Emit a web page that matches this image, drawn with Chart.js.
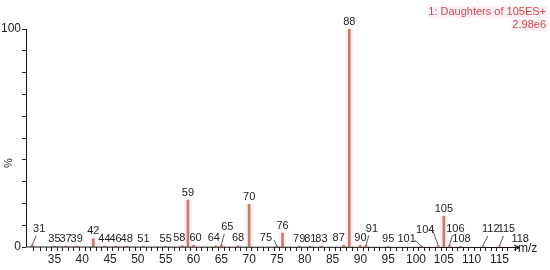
<!DOCTYPE html>
<html>
<head>
<meta charset="utf-8">
<script src="https://cdn.jsdelivr.net/npm/chart.js@4.4.0/dist/chart.umd.min.js"></script>
<style>
	html, body { margin: 0; padding: 0; background: #fff; }
	#wrap { width: 550px; height: 270px; }
</style>
</head>
<body>
<div id="wrap"><canvas id="myChart" width="550" height="270"></canvas></div>
<script>
// peaks (m/z, relative intensity %)
const mzValues = [31, 35, 37, 39, 42, 44, 46, 48, 51, 55, 58, 59, 60, 64, 65, 68, 70, 75, 76, 79, 81, 83, 87, 88, 90, 91, 95, 101, 104, 105, 106, 108, 112, 115, 118];
const intensities = [1.0, 0.4, 0.4, 0.4, 3.8, 0.4, 0.4, 0.3, 0.4, 0.4, 0.6, 21.5, 0.8, 0.5, 1.0, 0.6, 19.6, 0.5, 6.4, 0.4, 0.4, 0.4, 0.8, 100, 0.8, 0.8, 0.4, 0.4, 0.6, 14.2, 0.7, 0.4, 0.5, 0.5, 0.3];
const xTickLabels = [35, 40, 45, 50, 55, 60, 65, 70, 75, 80, 85, 90, 95, 100, 105, 110, 115];
const titleLines = ['1: Daughters of 105ES+', '2.98e6'];

// label nudges in pixels for peaks whose labels sit beside the line
const labelShift = {
	31: [7, -8], 58: [-3, 0], 60: [2, 0], 64: [-2, 0], 65: [6, -10], 75: [-11, 0],
	87: [-5, 0], 91: [6, -9], 101: [-15, 0], 104: [-13, -8], 106: [6, -9],
	108: [1, 0], 112: [8, -9], 115: [7, -9], 118: [4, 0]
};

const ctx = document.getElementById('myChart');
const points = mzValues.map((mz, i) => ({x: mz, y: intensities[i]}));

const peakLabels = {
	id: 'peakLabels',
	afterDatasetsDraw(chart) {
		const c = chart.ctx;
		const xs = chart.scales.x;
		const ys = chart.scales.y;
		c.save();
		c.font = '11px "Liberation Sans", Arial, sans-serif';
		c.fillStyle = '#222';
		c.strokeStyle = '#333';
		c.lineWidth = 0.8;
		c.textAlign = 'center';
		c.textBaseline = 'bottom';
		mzValues.forEach((mz, i) => {
			const px = xs.getPixelForValue(mz);
			const py = ys.getPixelForValue(intensities[i]);
			const shift = labelShift[mz] || [0, 0];
			const tx = px + shift[0];
			const ty = py - 2 + shift[1];
			c.fillText(String(mz), tx, ty);
			if (shift[1] !== 0 || Math.abs(shift[0]) > 8) {
				c.beginPath();
				if (shift[0] > 0) {
					c.moveTo(px, py);
					c.lineTo(tx - 3, ty + 1);
				} else {
					c.moveTo(tx + 8, ty - 4);
					c.lineTo(px, py);
				}
				c.stroke();
			}
		});

		// axes lines with arrow at the end of m/z axis
		const left = chart.chartArea.left;
		const bottom = chart.chartArea.bottom;
		c.strokeStyle = '#111';
		c.lineWidth = 1;
		c.beginPath();
		c.moveTo(left + 0.5, ys.getPixelForValue(100));
		c.lineTo(left + 0.5, bottom);
		c.lineTo(chart.chartArea.right - 4, bottom + 0.5);
		c.stroke();
		const ax = chart.chartArea.right - 4;
		c.beginPath();
		c.moveTo(ax, bottom + 0.5);
		c.lineTo(ax - 6, bottom - 2);
		c.moveTo(ax, bottom + 0.5);
		c.lineTo(ax - 6, bottom + 3);
		c.stroke();

		c.font = '12px "Liberation Sans", Arial, sans-serif';
		c.fillStyle = '#222';
		c.textAlign = 'left';
		c.textBaseline = 'middle';
		c.fillText('m/z', ax - 2, bottom + 2);

		// y title
		c.save();
		c.translate(9, (ys.top + ys.bottom) / 2 + 25);
		c.rotate(-Math.PI / 2);
		c.textAlign = 'center';
		c.font = '11px "Liberation Sans", Arial, sans-serif';
		c.fillText('%', 0, 0);
		c.restore();

		// run title, top right
		c.font = '11px "Liberation Sans", Arial, sans-serif';
		c.textAlign = 'right';
		c.textBaseline = 'middle';
		titleLines.forEach((line, k) => {
			const w = c.measureText(line).width;
			c.fillStyle = '#fdf0f4';
			c.fillRect(546 - w - 1, 6 + k * 13, w + 2, 12);
			c.fillStyle = '#cf4a4a';
			c.fillText(line, 546, 12 + k * 13);
		});
		c.restore();
	}
};

const myChart = new Chart(ctx, {
	type: 'bar',
	data: {
		datasets: [{
			data: points,
			backgroundColor: '#bf806e',
			barThickness: 2,
			grouped: false,
			order: 0
		}, {
			data: points,
			backgroundColor: 'rgba(252, 226, 236, 0.6)',
			barThickness: 7,
			grouped: false,
			order: 1
		}]
	},
	options: {
		responsive: false,
		animation: false,
		layout: { padding: { top: 29, right: 26, left: 0, bottom: 0 } },
		plugins: {
			legend: { display: false },
			tooltip: { enabled: false }
		},
		scales: {
			x: {
				type: 'linear',
				min: 30.4,
				max: 118.9,
				afterFit(scale) { scale.height = 23; },
				border: { display: false },
				grid: { drawOnChartArea: false, drawTicks: true, tickLength: 4, color: '#222' },
				ticks: {
					stepSize: 1,
					autoSkip: false,
					maxRotation: 0,
					padding: 1,
					color: '#222',
					font: { family: '"Liberation Sans", Arial, sans-serif', size: 12 },
					callback: (v) => xTickLabels.includes(v) ? String(v) : ''
				}
			},
			y: {
				min: 0,
				max: 100,
				afterFit(scale) { scale.width = 26; },
				border: { display: false },
				grid: { drawOnChartArea: false, drawTicks: true, tickLength: 4, color: '#222' },
				ticks: {
					stepSize: 10,
					padding: 1,
					color: '#222',
					font: { family: '"Liberation Sans", Arial, sans-serif', size: 12 },
					callback: (v) => (v === 0 || v === 100) ? String(v) : ''
				}
			}
		}
	},
	plugins: [peakLabels]
});
</script>
</body>
</html>
